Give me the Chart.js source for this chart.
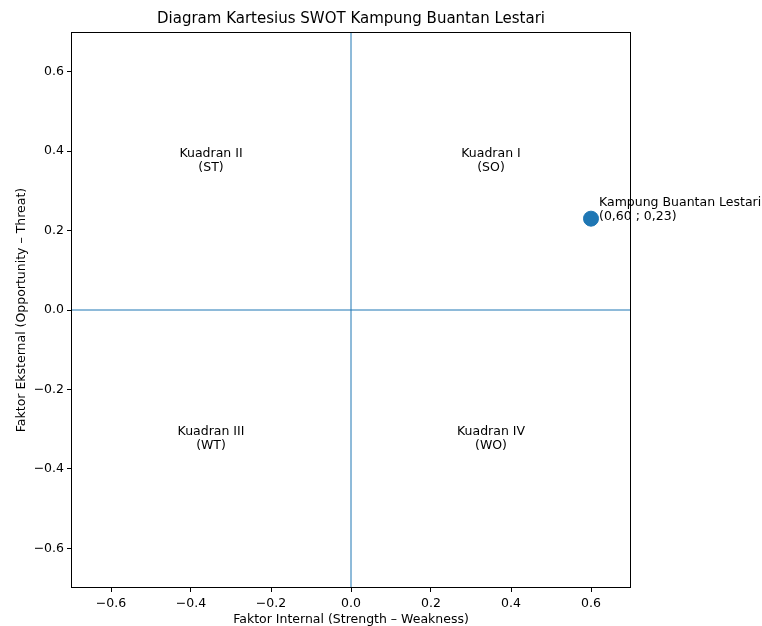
<!DOCTYPE html>
<html>
<head>
<meta charset="utf-8">
<script src="https://cdn.jsdelivr.net/npm/chart.js@4/dist/chart.umd.min.js"></script>
<style>
  html, body { margin: 0; padding: 0; background: #fff; }
  #wrap { width: 762px; height: 626px; position: relative; }
</style>
</head>
<body>
<div id="wrap"><canvas id="c" width="762" height="626"></canvas></div>
<script>
const chartTitle = 'Diagram Kartesius SWOT Kampung Buantan Lestari';
const xAxisLabel = 'Faktor Internal (Strength \u2013 Weakness)';
const yAxisLabel = 'Faktor Eksternal (Opportunity \u2013 Threat)';
const axisMin = -0.7;
const axisMax = 0.7;
const xTickValues = [-0.6, -0.4, -0.2, 0.0, 0.2, 0.4, 0.6];
const yTickValues = [-0.6, -0.4, -0.2, 0.0, 0.2, 0.4, 0.6];
const pointLabel = 'Kampung Buantan Lestari';
const pointX = [0.60];
const pointY = [0.23];
const quadrantNames = ['Kuadran I', 'Kuadran II', 'Kuadran III', 'Kuadran IV'];
const quadrantCodes = ['(SO)', '(ST)', '(WT)', '(WO)'];
const quadrantX = [0.35, -0.35, -0.35, 0.35];
const quadrantY = [0.35, 0.35, -0.35, -0.35];

const FONT = "'DejaVu Sans', sans-serif";
const FS = 12.5;
const BLUE = '#1f77b4';

function fmt(v) {
  const s = Math.abs(v).toFixed(1);
  return (v < 0 ? '\u2212' : '') + s;
}
function fmtComma(v) { return v.toFixed(2).replace('.', ','); }

const overlay = {
  id: 'overlay',
  afterDatasetsDraw(chart) {
    const {ctx, chartArea: a, scales: {x, y}} = chart;
    ctx.save();
    ctx.strokeStyle = '#000';
    ctx.lineWidth = 1;
    ctx.strokeRect(a.left + 0.5, a.top + 0.5, a.right - a.left - 1, a.bottom - a.top - 1);
    ctx.fillStyle = '#000';
    ctx.font = '15px ' + FONT;
    ctx.textAlign = 'center';
    ctx.textBaseline = 'middle';
    ctx.fillText(chartTitle, (a.left + a.right) / 2, 19);
    ctx.font = FS + 'px ' + FONT;
    ctx.textAlign = 'center';
    ctx.textBaseline = 'alphabetic';
    for (let i = 0; i < quadrantNames.length; i++) {
      const px = x.getPixelForValue(quadrantX[i]);
      const py = y.getPixelForValue(quadrantY[i]);
      ctx.fillText(quadrantNames[i], px, py - 14);
      ctx.fillText(quadrantCodes[i], px, py);
    }
    ctx.textAlign = 'left';
    for (let i = 0; i < pointX.length; i++) {
      const px = x.getPixelForValue(pointX[i]) + 8;
      const py = y.getPixelForValue(pointY[i]) + 1;
      ctx.fillText(pointLabel, px, py - 14);
      ctx.fillText('(' + fmtComma(pointX[i]) + ' ; ' + fmtComma(pointY[i]) + ')', px, py);
    }
    ctx.restore();
  }
};

const scaleCommon = (label, ticksArr) => ({
  type: 'linear',
  min: axisMin,
  max: axisMax,
  afterBuildTicks(scale) { scale.ticks = ticksArr.map(v => ({value: v})); },
  grid: { display: true, drawOnChartArea: false, drawTicks: true, tickLength: 4, tickColor: '#000', tickWidth: 1 },
  border: { display: false },
  ticks: { color: '#000', font: { family: FONT, size: FS }, padding: 3, callback: v => fmt(v), maxRotation: 0, autoSkip: false },
  title: { display: true, text: label, color: '#000', font: { family: FONT, size: FS } }
});

const xScale = scaleCommon(xAxisLabel, xTickValues);
xScale.afterFit = s => { s.height = 38; };
xScale.ticks.padding = 4;
xScale.title.padding = { top: 0, bottom: -1.5 };
const yScale = scaleCommon(yAxisLabel, yTickValues);
yScale.afterFit = s => { s.width = 71; };
yScale.title.padding = { top: 14, bottom: 0 };

new Chart(document.getElementById('c'), {
  type: 'scatter',
  data: {
    datasets: [
      { type: 'line', data: [{x: 0, y: axisMin}, {x: 0, y: axisMax}], borderColor: BLUE, borderWidth: 1, pointRadius: 0, order: 3 },
      { type: 'line', data: [{x: axisMin, y: 0}, {x: axisMax, y: 0}], borderColor: BLUE, borderWidth: 1, pointRadius: 0, order: 2 },
      { label: pointLabel, data: pointX.map((v, i) => ({x: v, y: pointY[i]})), backgroundColor: BLUE, borderColor: BLUE, pointRadius: 7.5, pointHoverRadius: 7.5, order: 1 }
    ]
  },
  options: {
    responsive: false,
    animation: false,
    devicePixelRatio: 1,
    layout: { padding: { left: 0, right: 131, top: 32, bottom: 0 } },
    plugins: {
      legend: { display: false },
      tooltip: { enabled: false },
      title: { display: false }
    },
    scales: { x: xScale, y: yScale }
  },
  plugins: [overlay]
});
</script>
</body>
</html>
